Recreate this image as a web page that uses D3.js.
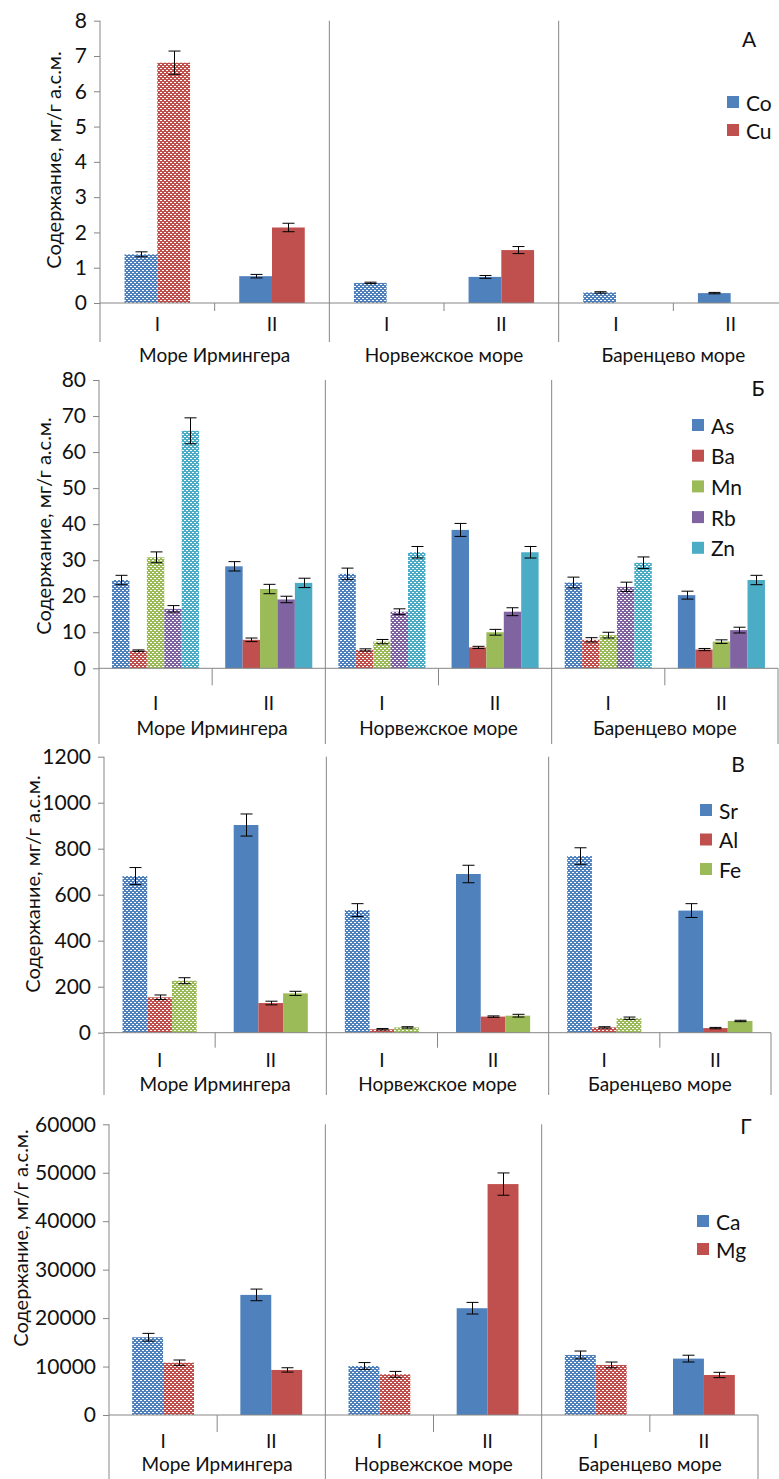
<!DOCTYPE html>
<html>
<head>
<meta charset="utf-8">
<script src="https://cdn.jsdelivr.net/npm/d3@7"></script>
<style>
	body { margin: 0; background: #fff; }
	svg { display: block; font-family: Lato, "Open Sans", sans-serif; }
</style>
</head>
<body>
<svg id="chart" width="779" height="1479"></svg>
<script>
// categories
const seas = ["Море Ирмингера", "Норвежское море", "Баренцево море"];
const stations = ["I", "II", "I", "II", "I", "II"];
const yTitle = "Содержание, мг/г а.с.м.";

// А: Co, Cu
const coValues = [1.38, 0.76, 0.57, 0.74, 0.30, 0.28];
const coErrors = [0.07, 0.05, 0.02, 0.04, 0.02, 0.02];
const cuValues = [6.81, 2.14, null, 1.50, null, null];
const cuErrors = [0.33, 0.12, 0, 0.10, 0, 0];
const ticksA = [0, 1, 2, 3, 4, 5, 6, 7, 8];

// Б: As, Ba, Mn, Rb, Zn
const asValues = [24.5, 28.3, 26.2, 38.4, 23.8, 20.3];
const asErrors = [1.3, 1.3, 1.6, 1.8, 1.5, 1.1];
const baValues = [4.9, 7.9, 5.1, 5.8, 7.9, 5.2];
const baErrors = [0.2, 0.5, 0.3, 0.3, 0.6, 0.3];
const mnValues = [30.8, 22.0, 7.4, 10.0, 9.2, 7.4];
const mnErrors = [1.5, 1.3, 0.6, 0.8, 0.8, 0.5];
const rbValues = [16.5, 19.1, 15.7, 15.7, 22.6, 10.6];
const rbErrors = [0.9, 0.9, 0.8, 1.1, 1.3, 0.8];
const znValues = [65.9, 23.7, 32.2, 32.2, 29.3, 24.5];
const znErrors = [3.6, 1.3, 1.6, 1.6, 1.6, 1.3];
const ticksB = [0, 10, 20, 30, 40, 50, 60, 70, 80];

// В: Sr, Al, Fe
const srValues = [681, 903, 533, 690, 768, 531];
const srErrors = [37, 48, 28, 38, 36, 30];
const alValues = [154, 129, 15, 70, 23, 20];
const alErrors = [10, 8, 3, 3, 3, 3];
const feValues = [226, 171, 23, 74, 63, 51];
const feErrors = [13, 9, 3, 6, 5, 3];
const ticksV = [0, 200, 400, 600, 800, 1000, 1200];

// Г: Ca, Mg
const caValues = [16050, 24790, 10120, 22040, 12400, 11640];
const caErrors = [800, 1200, 700, 1200, 800, 700];
const mgValues = [10800, 9300, 8400, 47660, 10330, 8260];
const mgErrors = [550, 450, 600, 2300, 600, 550];
const ticksG = [0, 10000, 20000, 30000, 40000, 50000, 60000];

const colors = {
	blue: "#4F81BD",
	red: "#C0504D",
	green: "#9BBB59",
	purple: "#8064A2",
	cyan: "#4BACC6",
};

const panels = [
	{
		letter: "А", ticks: ticksA,
		series: [
			{ name: "Co", values: coValues, errors: coErrors, color: colors.blue },
			{ name: "Cu", values: cuValues, errors: cuErrors, color: colors.red },
		],
		left: 100, right: 788, zeroY: 303, topY: 20.7, bottom: 342, tickLen: 8,
		catY: 323, seaY: 354, titleX: 53, titleY: 160,
		letterX: 749, letterY: 38, legendX: 727, legendY: 102, legendStep: 28,
	},
	{
		letter: "Б", ticks: ticksB,
		series: [
			{ name: "As", values: asValues, errors: asErrors, color: colors.blue },
			{ name: "Ba", values: baValues, errors: baErrors, color: colors.red },
			{ name: "Mn", values: mnValues, errors: mnErrors, color: colors.green },
			{ name: "Rb", values: rbValues, errors: rbErrors, color: colors.purple },
			{ name: "Zn", values: znValues, errors: znErrors, color: colors.cyan },
		],
		left: 99, right: 778, zeroY: 668.3, topY: 380, bottom: 744, tickLen: 17,
		catY: 702, seaY: 727, titleX: 43, titleY: 526,
		letterX: 758, letterY: 387, legendX: 692, legendY: 425, legendStep: 30.7,
	},
	{
		letter: "В", ticks: ticksV,
		series: [
			{ name: "Sr", values: srValues, errors: srErrors, color: colors.blue },
			{ name: "Al", values: alValues, errors: alErrors, color: colors.red },
			{ name: "Fe", values: feValues, errors: feErrors, color: colors.green },
		],
		left: 104, right: 771, zeroY: 1032.7, topY: 756.7, bottom: 1095, tickLen: 15,
		catY: 1059, seaY: 1083, titleX: 32, titleY: 884,
		letterX: 738, letterY: 763, legendX: 700, legendY: 810, legendStep: 29.5,
	},
	{
		letter: "Г", ticks: ticksG,
		series: [
			{ name: "Ca", values: caValues, errors: caErrors, color: colors.blue },
			{ name: "Mg", values: mgValues, errors: mgErrors, color: colors.red },
		],
		left: 109, right: 758, zeroY: 1415, topY: 1124.3, bottom: 1479, tickLen: 17,
		catY: 1440, seaY: 1463, titleX: 20, titleY: 1238,
		letterX: 746, letterY: 1125, legendX: 697, legendY: 1221, legendStep: 28,
	},
];

const svg = d3.select("#chart");
const axisColor = "#868686";
const textColor = "#111";

// точечная штриховка для станции I
const defs = svg.append("defs");
Object.entries(colors).forEach(([key, c]) => {
	const p = defs.append("pattern")
		.attr("id", "hatch-" + key)
		.attr("patternUnits", "userSpaceOnUse")
		.attr("width", 4)
		.attr("height", 4);
	p.append("rect").attr("width", 4).attr("height", 4).attr("fill", c);
	p.append("rect").attr("x", 0).attr("y", 0).attr("width", 2).attr("height", 1).attr("fill", "#fff");
	p.append("rect").attr("x", 2).attr("y", 2).attr("width", 2).attr("height", 1).attr("fill", "#fff");
});
const hatchId = (c) => "url(#hatch-" + Object.keys(colors).find((k) => colors[k] === c) + ")";

function drawPanel(cfg) {
	const g = svg.append("g");

	const y = d3.scaleLinear()
		.domain([0, d3.max(cfg.ticks)])
		.range([cfg.zeroY, cfg.topY]);

	const x0 = d3.scaleBand()
		.domain(d3.range(stations.length))
		.range([cfg.left, cfg.right])
		.padding(0);

	// Excel-style gap width 150%
	const x1 = d3.scaleBand()
		.domain(cfg.series.map((s) => s.name))
		.range([0, x0.bandwidth()])
		.paddingInner(0)
		.paddingOuter(0.75);

	// bars
	cfg.series.forEach((s) => {
		const pts = s.values
			.map((v, i) => ({ v, e: s.errors[i], i }))
			.filter((d) => d.v !== null);

		g.append("g")
			.selectAll("rect")
			.data(pts)
			.join("rect")
			.attr("x", (d) => x0(d.i) + x1(s.name))
			.attr("y", (d) => y(d.v))
			.attr("width", x1.bandwidth())
			.attr("height", (d) => cfg.zeroY - y(d.v))
			.attr("fill", (d) => (d.i % 2 === 0 ? hatchId(s.color) : s.color));

		// error bars
		const eb = g.append("g")
			.attr("stroke", "#000")
			.attr("stroke-width", 1)
			.selectAll("g")
			.data(pts)
			.join("g")
			.attr("transform", (d) => `translate(${Math.round(x0(d.i) + x1(s.name) + x1.bandwidth() / 2) + 0.5},0)`);
		eb.append("line")
			.attr("y1", (d) => y(d.v - d.e))
			.attr("y2", (d) => y(d.v + d.e));
		eb.append("line")
			.attr("x1", -6).attr("x2", 6)
			.attr("y1", (d) => y(d.v + d.e))
			.attr("y2", (d) => y(d.v + d.e));
		eb.append("line")
			.attr("x1", -6).attr("x2", 6)
			.attr("y1", (d) => y(d.v - d.e))
			.attr("y2", (d) => y(d.v - d.e));
	});

	// y axis
	const yAxis = g.append("g")
		.attr("transform", `translate(${cfg.left},0)`)
		.call(d3.axisLeft(y)
			.tickValues(cfg.ticks)
			.tickFormat(d3.format("d"))
			.tickSize(6)
			.tickSizeOuter(0)
			.tickPadding(7));
	yAxis.select(".domain").remove();
	yAxis.selectAll(".tick line").attr("stroke", axisColor);
	yAxis.selectAll(".tick text")
		.attr("fill", textColor)
		.style("font-size", "21px")
		.style("font-family", "Lato");

	const lines = g.append("g").attr("stroke", axisColor).attr("stroke-width", 1);
	lines.append("line")
		.attr("x1", cfg.left).attr("x2", cfg.left)
		.attr("y1", cfg.topY).attr("y2", cfg.bottom);
	lines.append("line")
		.attr("x1", cfg.left).attr("x2", cfg.right)
		.attr("y1", cfg.zeroY).attr("y2", cfg.zeroY);

	// dividers between seas and ticks between stations
	[2, 4].forEach((i) => {
		lines.append("line")
			.attr("x1", x0(i)).attr("x2", x0(i))
			.attr("y1", cfg.topY).attr("y2", cfg.bottom);
	});
	[1, 3, 5].forEach((i) => {
		lines.append("line")
			.attr("x1", x0(i)).attr("x2", x0(i))
			.attr("y1", cfg.zeroY).attr("y2", cfg.zeroY + cfg.tickLen);
	});
	lines.append("line")
		.attr("x1", cfg.right).attr("x2", cfg.right)
		.attr("y1", cfg.zeroY).attr("y2", cfg.bottom);

	// category labels
	g.append("g")
		.selectAll("text")
		.data(stations)
		.join("text")
		.attr("x", (d, i) => x0(i) + x0.bandwidth() / 2)
		.attr("y", cfg.catY)
		.attr("text-anchor", "middle")
		.attr("dominant-baseline", "central")
		.attr("fill", textColor)
		.style("font-size", "19px")
		.text((d) => d);

	g.append("g")
		.selectAll("text")
		.data(seas)
		.join("text")
		.attr("x", (d, i) => x0(i * 2 + 1))
		.attr("y", cfg.seaY)
		.attr("text-anchor", "middle")
		.attr("dominant-baseline", "central")
		.attr("fill", textColor)
		.style("font-size", "19px")
		.text((d) => d);

	// axis title
	g.append("text")
		.attr("transform", `translate(${cfg.titleX},${cfg.titleY}) rotate(-90)`)
		.attr("text-anchor", "middle")
		.attr("dominant-baseline", "central")
		.attr("fill", textColor)
		.style("font-size", "20px")
		.text(yTitle);

	// panel letter
	g.append("text")
		.attr("x", cfg.letterX)
		.attr("y", cfg.letterY)
		.attr("text-anchor", "middle")
		.attr("dominant-baseline", "central")
		.attr("fill", textColor)
		.style("font-size", "21px")
		.text(cfg.letter);

	// legend
	const leg = g.append("g")
		.selectAll("g")
		.data(cfg.series)
		.join("g")
		.attr("transform", (d, i) => `translate(${cfg.legendX},${cfg.legendY + i * cfg.legendStep})`);
	leg.append("rect")
		.attr("y", -6)
		.attr("width", 12)
		.attr("height", 12)
		.attr("fill", (d) => d.color);
	leg.append("text")
		.attr("x", 19)
		.attr("dominant-baseline", "central")
		.attr("fill", textColor)
		.style("font-size", "21px")
		.text((d) => d.name);
}

panels.forEach(drawPanel);
</script>
</body>
</html>
